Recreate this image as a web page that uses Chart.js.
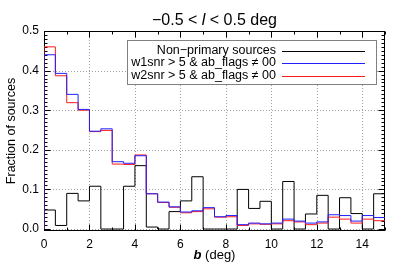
<!DOCTYPE html>
<html>
<head>
<meta charset="utf-8">
<script src="https://cdn.jsdelivr.net/npm/chart.js@4.4.1/dist/chart.umd.min.js"></script>
<style>
  html, body { margin: 0; padding: 0; background: #fff; }
</style>
</head>
<body>
<canvas id="histChart" width="407" height="265"></canvas>
<script>
/* ------------------------------------------------------------------ */
/*  Data: fraction of sources per 0.5 deg bin in b, from 0 to 15 deg  */
/* ------------------------------------------------------------------ */

var BIN_WIDTH = 0.5;

var NON_PRIMARY = [0.048, 0.009, 0.090, 0.071, 0.108, 0, 0, 0.108, 0.160, 0.005,
                   0, 0.044, 0.071, 0.132, 0, 0, 0, 0.100, 0.052, 0.070,
                   0, 0.120, 0, 0.038, 0.085, 0, 0.079, 0.039, 0, 0.089];

var W1SNR = [0.440, 0.393, 0.340, 0.302, 0.247, 0.253, 0.170, 0.166, 0.185, 0.089,
             0.068, 0.056, 0.043, 0.046, 0.054, 0.031, 0.034, 0.011, 0.015, 0.013,
             0.015, 0.025, 0.020, 0.015, 0.018, 0.036, 0.034, 0.020, 0.034, 0.029];

var W2SNR = [0.460, 0.387, 0.319, 0.300, 0.246, 0.249, 0.164, 0.163, 0.187, 0.089,
             0.067, 0.055, 0.041, 0.044, 0.051, 0.030, 0.031, 0.009, 0.013, 0.012,
             0.013, 0.021, 0.018, 0.011, 0.015, 0.030, 0.025, 0.015, 0.025, 0.021];

var SERIES_LABELS = [
  'Non\u2212primary sources',
  'w1snr > 5 & ab_flags \u2260 00',
  'w2snr > 5 & ab_flags \u2260 00',
];

var X_TICKS = [0, 2, 4, 6, 8, 10, 12, 14];
var Y_TICKS = [0, 0.1, 0.2, 0.3, 0.4, 0.5];

var FONT = '"Liberation Sans", Arial, Helvetica, sans-serif';

/* ------------------------------------------------------------------ */
/*  Helpers                                                           */
/* ------------------------------------------------------------------ */

/** Turn bin values into stepped points (left edges plus closing edge). */
function toSteps(values) {
  var pts = [{ x: 0, y: 0 }];
  values.forEach(function (v, i) {
    pts.push({ x: i * BIN_WIDTH, y: v });
  });
  pts.push({ x: values.length * BIN_WIDTH, y: values[values.length - 1] });
  return pts;
}

/** Draw a row of differently styled text runs, centred on cx. */
function drawRuns(ctx, runs, cx, y) {
  var total = 0;
  runs.forEach(function (r) {
    ctx.font = r.font;
    r.w = ctx.measureText(r.text).width;
    total += r.w;
  });
  var x = cx - total / 2;
  ctx.textAlign = 'left';
  runs.forEach(function (r) {
    ctx.font = r.font;
    ctx.fillText(r.text, x, y);
    x += r.w;
  });
}

function seg(ctx, x1, y1, x2, y2) {
  ctx.beginPath();
  ctx.moveTo(x1, y1);
  ctx.lineTo(x2, y2);
  ctx.stroke();
}

/* ------------------------------------------------------------------ */
/*  Plugins: IDL-style frame, inner ticks, dotted grid, texts, legend */
/* ------------------------------------------------------------------ */

var framePlugin = {
  id: 'frame',
  beforeDatasetsDraw: function (chart) {
    var ctx = chart.ctx, a = chart.chartArea;
    var xs = chart.scales.x, ys = chart.scales.y;
    ctx.save();
    ctx.lineWidth = 1;

    // dotted grid at major ticks
    ctx.strokeStyle = '#a0a0a0';
    ctx.setLineDash([1, 2]);
    X_TICKS.forEach(function (v) {
      if (v <= xs.min || v >= xs.max) return;
      var px = Math.round(xs.getPixelForValue(v)) + 0.5;
      seg(ctx, px, a.top, px, a.bottom);
    });
    Y_TICKS.forEach(function (v) {
      if (v <= ys.min || v >= ys.max) return;
      var py = Math.round(ys.getPixelForValue(v)) + 0.5;
      seg(ctx, a.left, py, a.right, py);
    });
    ctx.setLineDash([]);

    // frame
    ctx.strokeStyle = '#000';
    var L = Math.round(a.left) + 0.5, R = Math.round(a.right) - 0.5;
    var T = Math.round(a.top) + 0.5, B = Math.round(a.bottom) - 0.5;
    ctx.strokeRect(L, T, R - L, B - T);

    // x ticks every 1 (major every 2), on bottom and top
    for (var xv = 0; xv <= 15; xv++) {
      var len = xv % 2 === 0 ? 6 : 3;
      var px = Math.round(xs.getPixelForValue(xv)) + 0.5;
      seg(ctx, px, B, px, B - len);
      seg(ctx, px, T, px, T + len);
    }
    // y ticks every 0.01 (major every 0.1), on left and right
    for (var k = 0; k <= 50; k++) {
      var lenY = k % 10 === 0 ? 6 : 3;
      var py = Math.round(ys.getPixelForValue(k / 100)) + 0.5;
      seg(ctx, L, py, L + lenY, py);
      seg(ctx, R, py, R - lenY, py);
    }
    ctx.restore();
  },
  afterDraw: function (chart) {
    var ctx = chart.ctx, a = chart.chartArea;
    var cx = (a.left + a.right) / 2;
    ctx.save();
    ctx.fillStyle = '#000';
    ctx.textBaseline = 'alphabetic';

    // title
    drawRuns(ctx, [
      { text: '\u22120.5 < ', font: '16px ' + FONT },
      { text: 'l', font: 'italic 16px ' + FONT },
      { text: ' < 0.5 deg', font: '16px ' + FONT },
    ], cx, 25);

    // x axis title
    drawRuns(ctx, [
      { text: 'b', font: 'italic bold 13px ' + FONT },
      { text: ' (deg)', font: '13px ' + FONT },
    ], cx, 259);

    // legend box
    var bx = 127.5, by = 40.5, bw = 249, bh = 44;
    ctx.fillStyle = '#fff';
    ctx.fillRect(bx, by, bw, bh);
    ctx.strokeStyle = '#808080';
    ctx.lineWidth = 1;
    ctx.strokeRect(bx, by, bw, bh);

    ctx.font = '12.5px ' + FONT;
    ctx.textAlign = 'right';
    ctx.textBaseline = 'middle';
    chart.data.datasets.forEach(function (ds, i) {
      var ry = 50.5 + i * 12.5;
      ctx.fillStyle = '#000';
      ctx.fillText(ds.label, 276, ry);
      ctx.strokeStyle = ds.borderColor;
      seg(ctx, 282, Math.round(ry) + 0.5, 365, Math.round(ry) + 0.5);
    });
    ctx.restore();
  },
};

/* ------------------------------------------------------------------ */
/*  Chart                                                             */
/* ------------------------------------------------------------------ */

var config = {
  type: 'line',
  data: {
    datasets: [
      {
        label: SERIES_LABELS[0],
        data: toSteps(NON_PRIMARY),
        borderColor: '#000000',
        order: 2,
      },
      {
        label: SERIES_LABELS[1],
        data: toSteps(W1SNR),
        borderColor: '#2020ff',
        order: 0,
      },
      {
        label: SERIES_LABELS[2],
        data: toSteps(W2SNR),
        borderColor: '#ff1a1a',
        order: 1,
      },
    ].map(function (ds) {
      ds.stepped = 'before';
      ds.borderWidth = 1;
      ds.pointRadius = 0;
      ds.fill = false;
      return ds;
    }),
  },
  options: {
    responsive: false,
    animation: false,
    devicePixelRatio: 1,
    layout: { padding: { left: 0, right: 22, top: 31, bottom: 0 } },
    plugins: {
      legend: { display: false },
      tooltip: { enabled: false },
      title: { display: false },
    },
    scales: {
      x: {
        type: 'linear',
        min: 0,
        max: 15,
        afterBuildTicks: function (s) {
          s.ticks = X_TICKS.map(function (v) { return { value: v }; });
        },
        afterFit: function (s) { s.height = 34; },
        grid: { display: false, drawTicks: false },
        border: { display: false },
        ticks: {
          color: '#000',
          font: { family: FONT, size: 12 },
          padding: 6,
          maxRotation: 0,
          autoSkip: false,
          callback: function (v) { return String(v); },
        },
      },
      y: {
        type: 'linear',
        min: -0.005,
        max: 0.5,
        afterBuildTicks: function (s) {
          s.ticks = Y_TICKS.map(function (v) { return { value: v }; });
        },
        afterFit: function (s) { s.width = 44; },
        grid: { display: false, drawTicks: false },
        border: { display: false },
        title: {
          display: true,
          text: 'Fraction of sources',
          color: '#000',
          font: { family: FONT, size: 12.5 },
          padding: { top: 4, bottom: 0 },
        },
        ticks: {
          color: '#000',
          font: { family: FONT, size: 12 },
          padding: 5,
          callback: function (v) { return v.toFixed(1); },
        },
      },
    },
  },
  plugins: [framePlugin],
};

new Chart(document.getElementById('histChart').getContext('2d'), config);
</script>
</body>
</html>
